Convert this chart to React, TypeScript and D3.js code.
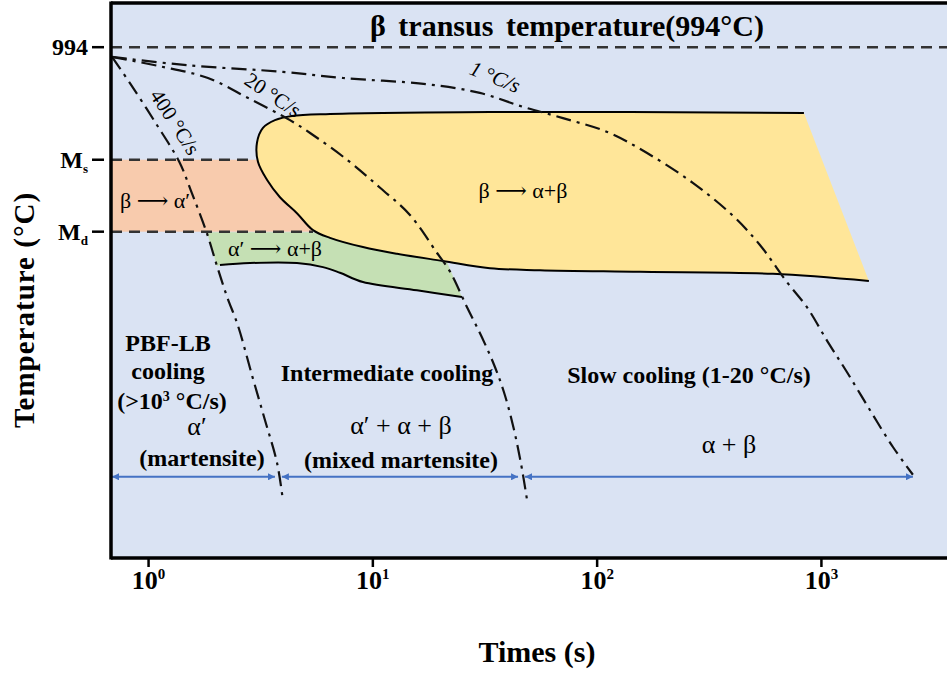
import React from "react";
import * as d3 from "d3";

type Pt = [number, number];

// ---------- data ----------
const X_DOMAIN: Pt = [0.68, 3630]; // time (s), log scale
const Y_DOMAIN: Pt = [0, 1080]; // temperature (°C)

const xTickValues = [1, 10, 100, 1000];
const xTickExponents = ["0", "1", "2", "3"];

const yTickValues = [994, 775, 635];
const yTickLabels = ["994", "M", "M"];
const yTickSubs = ["", "s", "d"];

const BETA_TRANSUS = 994;
const MS = 775;
const MD = 635;
const MS_END = 2.98; // time where Ms dashed line meets the nose
const MD_END = 5.41; // time where Md dashed line meets the nose

const rateLabels = ["400 °C/s", "20 °C/s", "1 °C/s"];

const curve400: Pt[] = [
  [0.687, 975], [0.826, 924], [1.07, 848], [1.37, 771], [1.56, 710], [1.82, 632],
  [2.02, 568], [2.24, 508], [2.5, 453], [2.89, 356], [3.3, 269], [3.74, 185], [3.97, 113],
];
const curve20: Pt[] = [
  [0.687, 975], [1.12, 957], [1.84, 934], [2.78, 895], [4.27, 852], [5.25, 827],
  [7.67, 775], [10.8, 720], [14.6, 668], [19.3, 594], [22.1, 557], [26.3, 488],
  [30.6, 430], [34.7, 376], [38.4, 323], [42.1, 259], [45.7, 185], [48.7, 113],
];
const curve1: Pt[] = [
  [0.687, 975], [1.48, 959], [3.97, 946], [7.36, 934], [17.4, 922], [30.0, 905],
  [46.7, 878], [70.4, 856], [111, 829], [167, 788], [267, 730], [403, 666],
  [532, 609], [702, 537], [862, 488], [1069, 420], [1299, 362], [1645, 288],
  [2084, 216], [2558, 162],
];

// β → α+β region (from top-right corner, round the nose, to bottom-right corner)
const betaRegion: Pt[] = [
  [835.6, 866], [33.28, 868], [6.44, 864], [4.358, 860], [3.66, 852], [3.236, 837],
  [3.043, 808], [3.074, 771], [3.372, 736], [3.853, 702], [4.587, 671], [5.408, 638],
  [6.439, 623], [9.033, 605], [12.81, 592], [20.53, 578], [33.28, 564], [55.59, 560],
  [155.2, 557], [607.7, 553], [1628, 539],
];

// α′ → α+β region
const greenTop: Pt[] = [[1.821, 634], [5.408, 634]];
const greenUpper: Pt[] = [[5.408, 634], [6.439, 623], [9.033, 605], [12.81, 592], [21.4, 576]];
const greenLower: Pt[] = [
  [24.96, 508], [15.73, 521], [9.033, 537], [7.134, 555], [5.992, 566],
  [4.587, 574], [2.832, 574], [2.081, 570],
];
const greenLeft: Pt[] = [[2.018, 568], [1.821, 634]];

const ARROW_T = 158;
const arrowSpans: Pt[] = [[0.687, 3.66], [3.93, 44.4], [47.7, 2558]];

// ---------- layout ----------
const W = 947;
const H = 675;
const PL = 111;
const PR = 947;
const PT = 3;
const PB = 558;

const SERIF = '"Liberation Serif", "Times New Roman", "DejaVu Serif", serif';
const ARROW = "⟶";

const x = d3.scaleLog().domain(X_DOMAIN).range([PL, PR]);
const y = d3.scaleLinear().domain(Y_DOMAIN).range([PB, PT]);

const smooth = d3
  .line<Pt>()
  .x((d) => x(d[0]))
  .y((d) => y(d[1]))
  .curve(d3.curveCatmullRom.alpha(0.5));
const straight = d3
  .line<Pt>()
  .x((d) => x(d[0]))
  .y((d) => y(d[1]));

function join(parts: string[]): string {
  return parts.map((p, i) => (i === 0 ? p : p.replace(/^M/, "L"))).join("") + "Z";
}

export default function App() {
  const betaPath = smooth(betaRegion) as string;
  const greenPath = join([
    straight(greenTop) as string,
    smooth(greenUpper) as string,
    smooth(greenLower) as string,
    straight(greenLeft) as string,
  ]);
  const curves = [curve400, curve20, curve1];

  const blue = "#4472C4";

  return (
    <svg
      width={W}
      height={H}
      viewBox={`0 0 ${W} ${H}`}
      style={{ position: "absolute", left: 0, top: 0, background: "#fff" }}
      fontFamily={SERIF}
    >
      <defs>
        <clipPath id="plot">
          <rect x={PL} y={PT} width={PR - PL} height={PB - PT} />
        </clipPath>
        <marker
          id="ah"
          viewBox="0 0 10 10"
          refX="10"
          refY="5"
          markerWidth="7"
          markerHeight="7"
          markerUnits="userSpaceOnUse"
          orient="auto-start-reverse"
        >
          <path d="M0,0 L10,5 L0,10 Z" fill={blue} />
        </marker>
      </defs>

      {/* plot background */}
      <rect x={PL} y={PT} width={PR - PL} height={PB - PT} fill="#DAE3F3" />

      <g clipPath="url(#plot)">
        {/* β → α′ band between Ms and Md */}
        <rect
          x={PL}
          y={y(MS)}
          width={x(MD_END) - PL}
          height={y(MD) - y(MS)}
          fill="#F8CBAD"
        />
        {/* α′ → α+β */}
        <path d={greenPath} fill="#C5E0B4" />
        <path d={smooth(greenLower) as string} fill="none" stroke="#000" strokeWidth={2} />
        {/* β → α+β */}
        <path d={betaPath + "Z"} fill="#FFE699" />
        <path d={betaPath} fill="none" stroke="#000" strokeWidth={2} />

        {/* dashed horizontal lines */}
        <g stroke="#333" strokeWidth={2.6} strokeDasharray="11 7">
          <line x1={PL} x2={PR} y1={y(BETA_TRANSUS)} y2={y(BETA_TRANSUS)} />
          <line x1={PL} x2={x(MS_END)} y1={y(MS)} y2={y(MS)} />
          <line x1={PL} x2={x(MD_END)} y1={y(MD)} y2={y(MD)} />
        </g>

        {/* cooling curves */}
        {curves.map((c, i) => (
          <path
            key={i}
            d={smooth(c) as string}
            fill="none"
            stroke="#111"
            strokeWidth={2.2}
            strokeDasharray="15 6 3 6"
          />
        ))}

        {/* region arrows */}
        {arrowSpans.map((s, i) => (
          <line
            key={i}
            x1={x(s[0])}
            x2={x(s[1])}
            y1={y(ARROW_T)}
            y2={y(ARROW_T)}
            stroke={blue}
            strokeWidth={2}
            markerStart="url(#ah)"
            markerEnd="url(#ah)"
          />
        ))}
      </g>

      {/* frame */}
      <g stroke="#000" strokeWidth={3.5}>
        <line x1={PL} x2={PL} y1={PT - 1.5} y2={PB + 1.5} />
        <line x1={PL} x2={PR} y1={PB} y2={PB} />
        <line x1={PL} x2={PR} y1={PT} y2={PT} />
      </g>

      {/* x ticks */}
      {xTickValues.map((v, i) => (
        <g key={v}>
          <line x1={x(v)} x2={x(v)} y1={PB} y2={PB + 9} stroke="#000" strokeWidth={2.5} />
          <text x={x(v)} y={589} textAnchor="middle" fontSize={26} fontWeight="bold">
            10
            <tspan dy={-10} fontSize={15}>
              {xTickExponents[i]}
            </tspan>
          </text>
        </g>
      ))}

      {/* y ticks */}
      {yTickValues.map((v, i) => (
        <g key={v}>
          <line x1={92} x2={104} y1={y(v)} y2={y(v)} stroke="#000" strokeWidth={2.5} />
          <text x={88} y={y(v) + 8} textAnchor="end" fontSize={24} fontWeight="bold">
            {yTickLabels[i]}
            {yTickSubs[i] && (
              <tspan dy={5} fontSize={13}>
                {yTickSubs[i]}
              </tspan>
            )}
          </text>
        </g>
      ))}

      {/* axis titles */}
      <text x={537} y={662} textAnchor="middle" fontSize={30} fontWeight="bold">
        Times (s)
      </text>
      <text
        transform="translate(34,310) rotate(-90)"
        textAnchor="middle"
        fontSize={29}
        fontWeight="bold"
        letterSpacing={1}
      >
        Temperature (°C)
      </text>

      {/* title line label */}
      <text x={567} y={36} textAnchor="middle" fontSize={30} fontWeight="bold" wordSpacing={5}>
        β transus temperature(994°C)
      </text>

      {/* cooling-rate labels */}
      <text transform="translate(175,122) rotate(57)" textAnchor="middle" dominantBaseline="central" fontSize={21}>
        {rateLabels[0]}
      </text>
      <text transform="translate(273,95) rotate(34)" textAnchor="middle" dominantBaseline="central" fontSize={21}>
        {rateLabels[1]}
      </text>
      <text transform="translate(495,77) rotate(22)" textAnchor="middle" dominantBaseline="central" fontSize={21} fontStyle="italic">
        {rateLabels[2]}
      </text>

      {/* phase labels */}
      <text x={155} y={200} textAnchor="middle" dominantBaseline="central" fontSize={22}>
        β {ARROW} α′
      </text>
      <text x={523} y={190} textAnchor="middle" dominantBaseline="central" fontSize={22}>
        β {ARROW} α+β
      </text>
      <text x={275} y={248} textAnchor="middle" dominantBaseline="central" fontSize={22}>
        α′ {ARROW} α+β
      </text>

      {/* region descriptions */}
      <g fontWeight="bold" fontSize={24} textAnchor="middle">
        <text x={168} y={351}>PBF-LB</text>
        <text x={168} y={379}>cooling</text>
        <text x={172} y={409}>
          (&gt;10<tspan dy={-8} fontSize={14}>3</tspan>
          <tspan dy={8}> °C/s)</tspan>
        </text>
        <text x={202} y={466}>(martensite)</text>
        <text x={387} y={381}>Intermediate cooling</text>
        <text x={401} y={468}>(mixed martensite)</text>
        <text x={689} y={383}>Slow cooling (1-20 °C/s)</text>
      </g>
      <g fontSize={26} textAnchor="middle">
        <text x={197} y={435}>α′</text>
        <text x={401} y={434}>α′ + α + β</text>
        <text x={729} y={453}>α + β</text>
      </g>
    </svg>
  );
}
